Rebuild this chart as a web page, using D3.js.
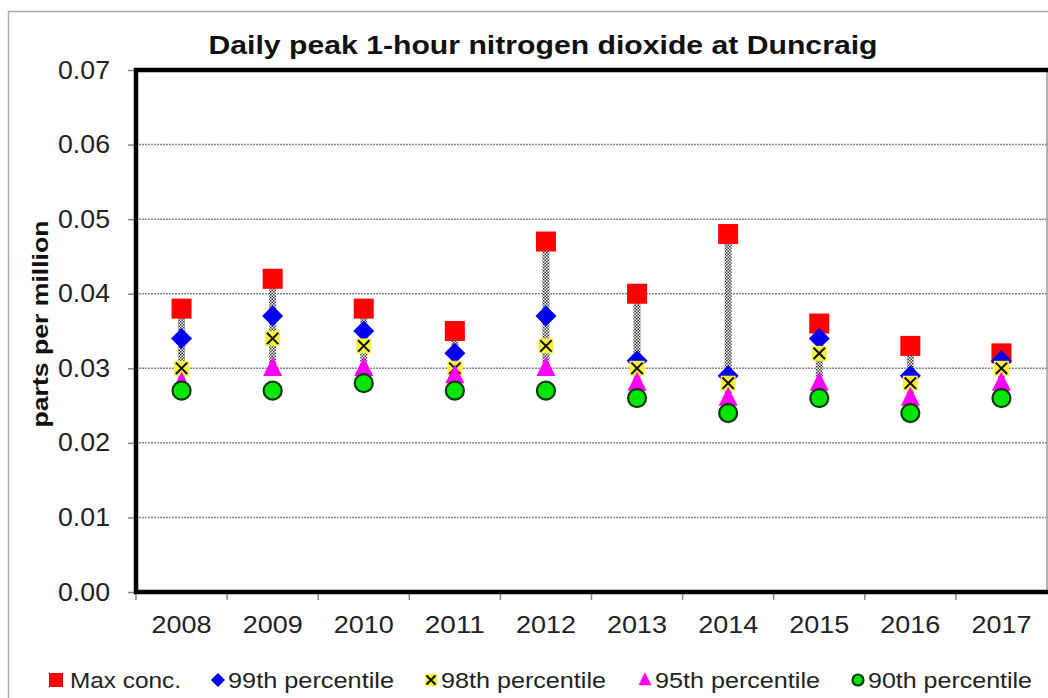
<!DOCTYPE html>
<html>
<head>
<meta charset="utf-8">
<script src="https://cdn.jsdelivr.net/npm/d3@7"></script>
<style>
  html, body { margin: 0; padding: 0; background: #fff; }
  svg { display: block; font-family: "Liberation Sans", Arial, sans-serif; }
</style>
</head>
<body>
<div id="chart"></div>
<script>
// data
const years = ['2008', '2009', '2010', '2011', '2012', '2013', '2014', '2015', '2016', '2017'];
const maxConc = [0.038, 0.042, 0.038, 0.035, 0.047, 0.040, 0.048, 0.036, 0.033, 0.032];
const p99 = [0.034, 0.037, 0.035, 0.032, 0.037, 0.031, 0.029, 0.034, 0.029, 0.031];
const p98 = [0.030, 0.034, 0.033, 0.030, 0.033, 0.030, 0.028, 0.032, 0.028, 0.030];
const p95 = [0.028, 0.030, 0.030, 0.029, 0.030, 0.028, 0.026, 0.028, 0.026, 0.028];
const p90 = [0.027, 0.027, 0.028, 0.027, 0.027, 0.026, 0.024, 0.026, 0.024, 0.026];
const yTicks = [0, 0.01, 0.02, 0.03, 0.04, 0.05, 0.06, 0.07];

const width = 1048;
const height = 698;

const plot = { left: 136, right: 1047, top: 70, bottom: 592 };

const svg = d3.select('#chart')
    .append('svg')
    .attr('width', width)
    .attr('height', height);

// checkered pattern for the hi-lo lines
const defs = svg.append('defs');
const pat = defs.append('pattern')
    .attr('id', 'checker')
    .attr('width', 3)
    .attr('height', 3)
    .attr('patternUnits', 'userSpaceOnUse');
pat.append('rect').attr('width', 3).attr('height', 3).attr('fill', '#fff');
pat.append('rect').attr('width', 1.5).attr('height', 1.5).attr('fill', '#333');
pat.append('rect').attr('x', 1.5).attr('y', 1.5).attr('width', 1.5).attr('height', 1.5).attr('fill', '#333');

// outer chart frame
svg.append('rect')
    .attr('x', 8.5)
    .attr('y', 11.5)
    .attr('width', width + 10)
    .attr('height', height + 10)
    .attr('fill', 'none')
    .attr('stroke', '#aaa')
    .attr('stroke-width', 1.5);

const x = d3.scaleBand()
    .domain(years)
    .range([plot.left, plot.right]);

const y = d3.scaleLinear()
    .domain([0, 0.07])
    .range([plot.bottom, plot.top]);

// gridlines
svg.append('g')
    .selectAll('line')
    .data(yTicks.slice(1, -1))
    .join('line')
    .attr('x1', plot.left)
    .attr('x2', plot.right)
    .attr('y1', d => y(d))
    .attr('y2', d => y(d))
    .attr('stroke', '#888')
    .attr('stroke-width', 1.5)
    .attr('stroke-dasharray', '2,1');

// left axis
const leftAxis = svg.append('g')
    .attr('transform', `translate(${plot.left},0)`)
    .call(d3.axisLeft(y).tickValues(yTicks).tickFormat(d3.format('.2f')).tickSize(8).tickPadding(18));
leftAxis.select('.domain').remove();
leftAxis.selectAll('line').attr('stroke', '#888').attr('stroke-width', 1.5);
leftAxis.selectAll('text')
    .attr('font-size', 25)
    .attr('fill', '#222')
    .attr('font-family', '"Liberation Sans", Arial, sans-serif')
    .attr('textLength', 52)
    .attr('lengthAdjust', 'spacingAndGlyphs');

// bottom axis ticks at category boundaries
svg.append('g')
    .selectAll('line')
    .data(years)
    .join('line')
    .attr('x1', d => x(d))
    .attr('x2', d => x(d))
    .attr('y1', plot.bottom)
    .attr('y2', plot.bottom + 8)
    .attr('stroke', '#888')
    .attr('stroke-width', 1.5);

svg.append('g')
    .selectAll('text')
    .data(years)
    .join('text')
    .attr('x', d => x(d) + x.bandwidth() / 2)
    .attr('y', 633)
    .attr('text-anchor', 'middle')
    .attr('font-size', 24)
    .attr('fill', '#222')
    .attr('textLength', 60)
    .attr('lengthAdjust', 'spacingAndGlyphs')
    .text(d => d);

// plot frame
svg.append('line')
    .attr('x1', plot.right).attr('x2', plot.right)
    .attr('y1', plot.top).attr('y2', plot.bottom)
    .attr('stroke', '#999').attr('stroke-width', 1.5);
svg.append('path')
    .attr('d', `M${plot.right + 2},${plot.top}H${plot.left}V${plot.bottom}H${plot.right + 2}`)
    .attr('fill', 'none')
    .attr('stroke', '#000')
    .attr('stroke-width', 4.5);

// hi-lo lines
const cx = i => x(years[i]) + x.bandwidth() / 2;
svg.append('g')
    .selectAll('rect')
    .data(years)
    .join('rect')
    .attr('x', (d, i) => cx(i) - 3.5)
    .attr('y', (d, i) => y(maxConc[i]))
    .attr('width', 7)
    .attr('height', (d, i) => y(p95[i]) - y(maxConc[i]))
    .attr('fill', 'url(#checker)');

// marker shapes
const markers = {
    square: (g, s) => g.append('rect').attr('x', -s / 2).attr('y', -s / 2).attr('width', s).attr('height', s)
        .attr('fill', '#f00'),
    diamond: (g, s) => g.append('path').attr('d', `M0,${-s / 2}L${s / 2},0L0,${s / 2}L${-s / 2},0Z`)
        .attr('fill', '#0000f0'),
    cross: (g, s) => {
        g.append('rect').attr('x', -s / 2).attr('y', -s / 2).attr('width', s).attr('height', s).attr('fill', '#f6f23a');
        const h = s * 0.38;
        g.append('path').attr('d', `M${-h},${-h}L${h},${h}M${h},${-h}L${-h},${h}`)
            .attr('stroke', '#111').attr('stroke-width', 2);
    },
    triangle: (g, s) => g.append('path').attr('d', `M0,${-s * 0.6}L${s / 2},${s * 0.4}L${-s / 2},${s * 0.4}Z`)
        .attr('fill', '#ff00ff'),
    circle: (g, s) => g.append('circle').attr('r', s / 2).attr('fill', '#00e600')
        .attr('stroke', '#0a3a0a').attr('stroke-width', 2.2)
};

const series = [
    { name: 'Max conc.', values: maxConc, shape: 'square', size: 20, lsize: 14, tlen: 111 },
    { name: '99th percentile', values: p99, shape: 'diamond', size: 21, lsize: 14, tlen: 166 },
    { name: '98th percentile', values: p98, shape: 'cross', size: 15, lsize: 12, tlen: 165 },
    { name: '95th percentile', values: p95, shape: 'triangle', size: 19, lsize: 13, tlen: 165 },
    { name: '90th percentile', values: p90, shape: 'circle', size: 18, lsize: 11, tlen: 164 }
];

series.forEach(s => {
    const g = svg.append('g');
    s.values.forEach((v, i) => {
        const m = g.append('g').attr('transform', `translate(${cx(i)},${y(v)})`);
        markers[s.shape](m, s.size);
    });
});

// title
svg.append('text')
    .attr('x', 543)
    .attr('y', 54)
    .attr('text-anchor', 'middle')
    .attr('font-size', 25)
    .attr('font-weight', 'bold')
    .attr('fill', '#111')
    .attr('textLength', 669)
    .attr('lengthAdjust', 'spacingAndGlyphs')
    .text('Daily peak 1-hour nitrogen dioxide at Duncraig');

// y axis title
svg.append('text')
    .attr('transform', 'translate(48,324) rotate(-90)')
    .attr('text-anchor', 'middle')
    .attr('font-size', 22)
    .attr('font-weight', 'bold')
    .attr('fill', '#111')
    .attr('textLength', 207)
    .attr('lengthAdjust', 'spacingAndGlyphs')
    .text('parts per million');

// legend
const legendX = [56, 218, 431, 645, 858];
const legend = svg.append('g');
series.forEach((s, i) => {
    const item = legend.append('g').attr('transform', `translate(${legendX[i]},680)`);
    markers[s.shape](item, s.lsize);
    item.append('text')
        .attr('x', s.shape === 'square' ? 14 : 10)
        .attr('y', 0)
        .attr('dy', '0.35em')
        .attr('font-size', 22)
        .attr('fill', '#222')
        .attr('textLength', s.tlen)
        .attr('lengthAdjust', 'spacingAndGlyphs')
        .text(s.name);
});
</script>
</body>
</html>
